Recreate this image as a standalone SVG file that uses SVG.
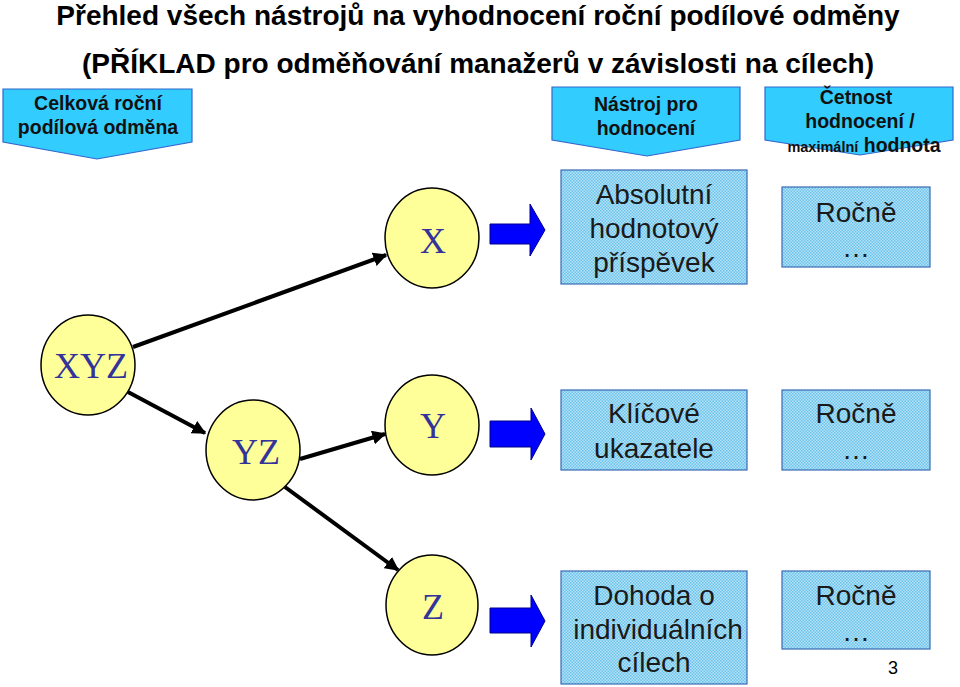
<svg xmlns="http://www.w3.org/2000/svg" width="960" height="687" viewBox="0 0 960 687">
<defs>
<pattern id="chk" width="3" height="3" patternUnits="userSpaceOnUse">
<rect width="3" height="3" fill="#B5E2F7"/>
<rect width="1.5" height="1.5" fill="#6CC4EC"/>
<rect x="1.5" y="1.5" width="1.5" height="1.5" fill="#6CC4EC"/>
</pattern>
<marker id="ah" viewBox="0 0 10 10" refX="9" refY="5" markerWidth="3.5" markerHeight="3.5" orient="auto" markerUnits="strokeWidth">
<path d="M0,0 L10,5 L0,10 z" fill="#000"/>
</marker>
<style>
.title{font-family:"Liberation Sans",Arial,sans-serif;font-weight:bold;font-size:28px;fill:#000;text-anchor:middle}
.hdr{fill:#33CCFF;stroke:#3366CC;stroke-width:1.2}
.ht{font-family:"Liberation Sans",Arial,sans-serif;font-weight:bold;font-size:19.5px;fill:#111;text-anchor:middle}
.box{fill:url(#chk);stroke:#3A6BB5;stroke-width:1.2}
.bt{font-family:"Liberation Sans",Arial,sans-serif;font-size:28px;fill:#1a1a1a;text-anchor:middle}
.ell{fill:#FFFF99;stroke:#000;stroke-width:1.5}
.et{font-family:"Liberation Serif","Times New Roman",serif;font-size:36px;fill:#333399;text-anchor:middle}
.blk{fill:#0000FF;stroke:#00008B;stroke-width:1}
.con{stroke:#000;stroke-width:4;fill:none}
</style>
</defs>
<rect width="960" height="687" fill="#fff"/>

<text class="title" x="478" y="25">Přehled všech nástrojů na vyhodnocení roční podílové odměny</text>
<text class="title" x="478" y="73">(PŘÍKLAD pro odměňování manažerů v závislosti na cílech)</text>

<g id="hdr-celkova">
<path class="hdr" d="M3,89 H192 V142 L97,159 L3,142 Z"/>
<text class="ht" x="98" y="110">Celková roční</text>
<text class="ht" x="98" y="134">podílová odměna</text>
</g>
<g id="hdr-nastroj">
<path class="hdr" d="M552,87 H740 V140 L647,156 L552,140 Z"/>
<text class="ht" x="646" y="111">Nástroj pro</text>
<text class="ht" x="646" y="135">hodnocení</text>
</g>
<g id="hdr-cetnost">
<path class="hdr" d="M765,87 H953 V140 L860,155 L765,140 Z"/>
<text class="ht" x="856" y="104">Četnost</text>
<text class="ht" x="860" y="128">hodnocení /</text>
<text class="ht" x="864" y="152"><tspan font-size="14.5">maximální</tspan> hodnota</text>
</g>

<g id="connectors">
<line class="con" x1="133" y1="347" x2="386" y2="255" marker-end="url(#ah)"/>
<line class="con" x1="128" y1="392" x2="205" y2="433" marker-end="url(#ah)"/>
<line class="con" x1="300" y1="459" x2="385" y2="434" marker-end="url(#ah)"/>
<line class="con" x1="285" y1="487" x2="398" y2="570" marker-end="url(#ah)"/>
<path class="blk" d="M490,224 H530 V204 L545,230 L530,256 V244 H490 Z"/>
<path class="blk" d="M490,421 H531 V408 L545,434 L531,460 V447 H490 Z"/>
<path class="blk" d="M490,608 H531 V595 L545,621 L531,647 V633 H490 Z"/>
</g>

<g id="node-xyz">
<ellipse class="ell" cx="88" cy="365" rx="47" ry="50"/>
<text class="et" x="91" y="378">XYZ</text>
</g>
<g id="node-yz">
<ellipse class="ell" cx="253" cy="450" rx="47" ry="50"/>
<text class="et" x="256" y="464">YZ</text>
</g>
<g id="node-x">
<ellipse class="ell" cx="432" cy="238" rx="47" ry="50"/>
<text class="et" x="433" y="253">X</text>
</g>
<g id="node-y">
<ellipse class="ell" cx="432" cy="425" rx="47" ry="50"/>
<text class="et" x="433" y="438">Y</text>
</g>
<g id="node-z">
<ellipse class="ell" cx="432" cy="605" rx="46" ry="50"/>
<text class="et" x="433" y="619">Z</text>
</g>

<g id="box-absolutni">
<rect class="box" x="561" y="170" width="186" height="114"/>
<text class="bt" x="654" y="204">Absolutní</text>
<text class="bt" x="654" y="238">hodnotový</text>
<text class="bt" x="654" y="272">příspěvek</text>
</g>
<g id="box-rocne1">
<rect class="box" x="782" y="187" width="148" height="80"/>
<text class="bt" x="856" y="222">Ročně</text>
<text class="bt" x="856" y="257">…</text>
</g>
<g id="box-klicove">
<rect class="box" x="561" y="390" width="186" height="80"/>
<text class="bt" x="654" y="423">Klíčové</text>
<text class="bt" x="654" y="458">ukazatele</text>
</g>
<g id="box-rocne2">
<rect class="box" x="782" y="390" width="148" height="80"/>
<text class="bt" x="856" y="423">Ročně</text>
<text class="bt" x="856" y="459">…</text>
</g>
<g id="box-dohoda">
<rect class="box" x="561" y="571" width="186" height="113"/>
<text class="bt" x="654" y="605">Dohoda o</text>
<text class="bt" x="658" y="639">individuálních</text>
<text class="bt" x="654" y="672">cílech</text>
</g>
<g id="box-rocne3">
<rect class="box" x="782" y="571" width="148" height="78"/>
<text class="bt" x="856" y="605">Ročně</text>
<text class="bt" x="856" y="641">…</text>
</g>
<text x="893" y="674" font-family="Liberation Sans,Arial,sans-serif" font-size="18" fill="#000" text-anchor="middle">3</text>
</svg>
